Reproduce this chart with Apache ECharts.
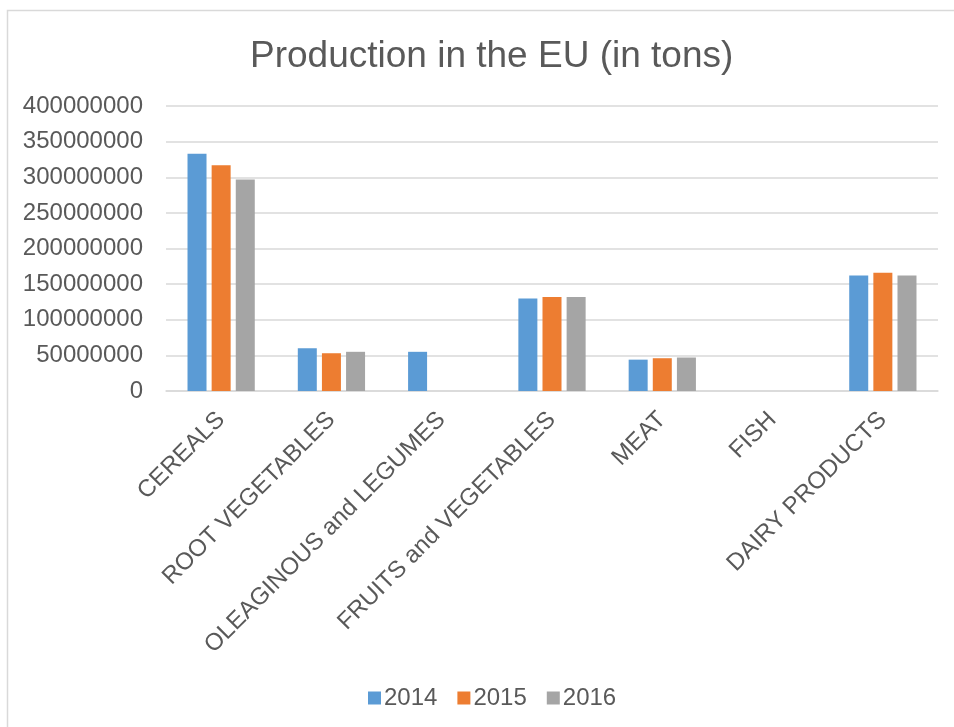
<!DOCTYPE html>
<html>
<head>
<meta charset="utf-8">
<title>Production in the EU (in tons)</title>
<script src="https://cdn.jsdelivr.net/npm/echarts@6/dist/echarts.min.js"></script>
<style>
  html, body { margin: 0; padding: 0; background: #ffffff; }
  #chart { width: 954px; height: 727px; }
</style>
</head>
<body>
<div id="chart"></div>
<script>
// Product groups along the x axis
const categories = [
  'CEREALS',
  'ROOT VEGETABLES',
  'OLEAGINOUS and LEGUMES',
  'FRUITS and VEGETABLES',
  'MEAT',
  'FISH',
  'DAIRY PRODUCTS'
];

// Yearly production, tons (null = no figure available)
const prod2014 = [333000000, 60000000, 55000000, 130000000, 44000000, null, 162000000];
const prod2015 = [317000000, 53000000, null, 132000000, 46000000, null, 166000000];
const prod2016 = [297000000, 55000000, null, 132000000, 47000000, null, 162000000];

const years = ['2014', '2015', '2016'];
const yTicks = { min: 0, max: 400000000, step: 50000000 };

const textColor = '#595959';
const gridColor = '#d9d9d9';
const fontFamily = 'Liberation Sans, Arial, sans-serif';

const chart = echarts.init(document.getElementById('chart'), null, { renderer: 'canvas' });

chart.setOption({
  backgroundColor: '#ffffff',
  animation: false,
  textStyle: { fontFamily: fontFamily },
  graphic: [{
    type: 'rect',
    shape: { x: 7.5, y: 10.5, width: 980, height: 740 },
    style: { fill: 'none', stroke: gridColor, lineWidth: 1.5 },
    silent: true,
    z: -1
  }],
  title: {
    text: 'Production in the EU (in tons)',
    left: 245,
    top: 33,
    textStyle: { color: textColor, fontSize: 37, fontWeight: 'normal', fontFamily: fontFamily }
  },
  legend: {
    data: years,
    bottom: 12,
    left: 363,
    icon: 'rect',
    itemWidth: 13,
    itemHeight: 13,
    itemGap: 20,
    textStyle: { color: textColor, fontSize: 24, fontFamily: fontFamily, padding: [0, 0, 0, -2] }
  },
  grid: { left: 166, right: 16, top: 106, bottom: 336, containLabel: false },
  xAxis: {
    type: 'category',
    data: categories,
    axisLine: { lineStyle: { color: gridColor, width: 1.5 } },
    axisTick: { show: false },
    axisLabel: {
      rotate: 45,
      interval: 0,
      margin: 25,
      color: textColor,
      fontSize: 24,
      fontFamily: fontFamily
    }
  },
  yAxis: {
    type: 'value',
    min: yTicks.min,
    max: yTicks.max,
    interval: yTicks.step,
    axisLine: { show: false },
    axisTick: { show: false },
    splitLine: { lineStyle: { color: gridColor, width: 1.5 } },
    axisLabel: {
      color: textColor,
      fontSize: 24,
      margin: 23,
      fontFamily: fontFamily,
      formatter: function (v) { return String(v); }
    }
  },
  series: [
    { name: years[0], type: 'bar', data: prod2014, barWidth: 19, barGap: '27%', itemStyle: { color: '#5b9bd5' } },
    { name: years[1], type: 'bar', data: prod2015, barWidth: 19, barGap: '27%', itemStyle: { color: '#ed7d31' } },
    { name: years[2], type: 'bar', data: prod2016, barWidth: 19, barGap: '27%', itemStyle: { color: '#a5a5a5' } }
  ]
});
</script>
</body>
</html>
